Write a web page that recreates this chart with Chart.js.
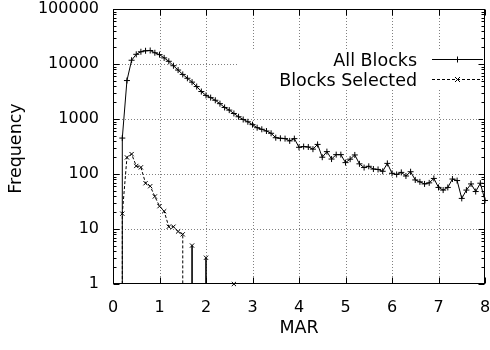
<!DOCTYPE html>
<html>
<head>
<meta charset="utf-8">
<script src="https://cdn.jsdelivr.net/npm/chart.js@4/dist/chart.umd.min.js"></script>
<style>
  html, body { margin: 0; padding: 0; background: #fff; }
  #chart { display: block; }
</style>
</head>
<body>
<canvas id="chart" width="490" height="350"></canvas>
<script>
// MAR bins (x), 0.1 wide
const mar = [
  0.1, 0.2, 0.3, 0.4, 0.5, 0.6, 0.7, 0.8, 0.9, 1.0,
  1.1, 1.2, 1.3, 1.4, 1.5, 1.6, 1.7, 1.8, 1.9, 2.0,
  2.1, 2.2, 2.3, 2.4, 2.5, 2.6, 2.7, 2.8, 2.9, 3.0,
  3.1, 3.2, 3.3, 3.4, 3.5, 3.6, 3.7, 3.8, 3.9, 4.0,
  4.1, 4.2, 4.3, 4.4, 4.5, 4.6, 4.7, 4.8, 4.9, 5.0,
  5.1, 5.2, 5.3, 5.4, 5.5, 5.6, 5.7, 5.8, 5.9, 6.0,
  6.1, 6.2, 6.3, 6.4, 6.5, 6.6, 6.7, 6.8, 6.9, 7.0,
  7.1, 7.2, 7.3, 7.4, 7.5, 7.6, 7.7, 7.8, 7.9, 8.0
];

const allBlocks = [
  0, 450, 5000, 11700, 15000, 16700, 17400, 17600, 16000, 14800,
  12900, 11200, 9300, 7760, 6460, 5500, 4680, 3890, 3160, 2690,
  2450, 2190, 1900, 1620, 1450, 1260, 1100, 980, 890, 790,
  695, 650, 605, 550, 457, 446, 440, 400, 440, 306,
  315, 310, 283, 345, 202, 255, 187, 225, 225, 161,
  186, 222, 153, 131, 138, 123, 121, 112, 156, 103,
  98, 107, 92, 110, 78, 72, 66, 69, 83, 57,
  51, 57, 81, 76, 36, 51, 66, 48, 68, 33
];

// same bins, only the first 27 (0.1 .. 2.7)
const blocksSelected = [
  0, 19, 200, 230, 140, 132, 68, 60, 39, 26,
  21, 11, 11, 9, 8, 0, 5, 0, 0, 3,
  0, 0, 0, 0, 0, 1, 0
];

const seriesNames = ["All Blocks", "Blocks Selected"];
const xTicks = [0, 1, 2, 3, 4, 5, 6, 7, 8];
const yTicks = [1, 10, 100, 1000, 10000, 100000];
const xTitle = "MAR";
const yTitle = "Frequency";

const FONT = "'DejaVu Sans', sans-serif";
const FLOOR = yTicks[0];

// gnuplot draws a zero count on a log axis as a drop straight down to the floor;
// a count with zeros on both sides gets the drop twice (up and down)
function toPoints(values) {
  const pts = [];
  values.forEach((v, i) => {
    if (v <= 0) return;
    const x = mar[i];
    const before = i > 0 && values[i - 1] === 0;
    const after = i < values.length - 1 && values[i + 1] === 0;
    const spike = before && after;
    if (before) pts.push({ x, y: FLOOR, edge: true, spike });
    pts.push({ x, y: v, spike });
    if (after) {
      pts.push({ x, y: FLOOR, edge: true, spike });
      pts.push({ x, y: null });
    }
  });
  return pts;
}

const markRadius = ctx => (ctx.raw && ctx.raw.edge ? 0 : 3);

function spikeSegment(data) {
  const isSpike = ctx => data[ctx.p0DataIndex].spike && data[ctx.p1DataIndex].spike;
  return {
    borderDash: ctx => (isSpike(ctx) ? [] : undefined),
    borderWidth: ctx => (isSpike(ctx) ? 1.6 : undefined)
  };
}

const gnuplotFrame = {
  id: "gnuplotFrame",
  beforeDatasetsDraw(chart) {
    const { ctx, chartArea: a, scales: { x, y } } = chart;
    ctx.save();
    ctx.strokeStyle = "#808080";
    ctx.lineWidth = 1;
    ctx.setLineDash([1, 2]);
    ctx.beginPath();
    xTicks.slice(1, -1).forEach(v => {
      const px = Math.round(x.getPixelForValue(v)) + 0.5;
      ctx.moveTo(px, a.top);
      ctx.lineTo(px, a.bottom);
    });
    yTicks.slice(1, -1).forEach(v => {
      const py = Math.round(y.getPixelForValue(v)) + 0.5;
      ctx.moveTo(a.left, py);
      ctx.lineTo(a.right, py);
    });
    ctx.stroke();
    ctx.setLineDash([]);
    // opaque key box
    ctx.fillStyle = "#fff";
    ctx.fillRect(a.left + 125, a.top + 40, a.right - a.left - 125, 40);
    ctx.restore();
  },
  afterDatasetsDraw(chart) {
    const { ctx, chartArea: a, scales: { x, y } } = chart;
    const L = Math.round(a.left) + 0.5, R = Math.round(a.right) - 0.5;
    const T = Math.round(a.top) + 0.5, B = Math.round(a.bottom) - 0.5;
    ctx.save();
    ctx.strokeStyle = "#000";
    ctx.lineWidth = 1;
    ctx.strokeRect(L, T, R - L, B - T);

    ctx.beginPath();
    xTicks.forEach(v => {
      const px = Math.round(x.getPixelForValue(v)) + 0.5;
      ctx.moveTo(px, B); ctx.lineTo(px, B - 6);
      ctx.moveTo(px, T); ctx.lineTo(px, T + 6);
    });
    yTicks.forEach((d, i) => {
      const py = Math.round(y.getPixelForValue(d)) + 0.5;
      ctx.moveTo(L, py); ctx.lineTo(L + 6, py);
      ctx.moveTo(R, py); ctx.lineTo(R - 6, py);
      if (i === yTicks.length - 1) return;
      for (let m = 2; m <= 9; m++) {
        const pm = Math.round(y.getPixelForValue(d * m)) + 0.5;
        ctx.moveTo(L, pm); ctx.lineTo(L + 3, pm);
        ctx.moveTo(R, pm); ctx.lineTo(R - 3, pm);
      }
    });
    ctx.stroke();

    // key
    ctx.font = "17.5px " + FONT;
    ctx.fillStyle = "#000";
    ctx.textAlign = "right";
    ctx.textBaseline = "alphabetic";
    const keyStyles = [{ dash: [], mark: "+" }, { dash: [3, 2], mark: "x" }];
    seriesNames.forEach((name, i) => {
      const ly = a.top + 50.5 + i * 20;
      ctx.fillText(name, a.left + 304, ly + 6.5);
      ctx.setLineDash(keyStyles[i].dash);
      ctx.beginPath();
      ctx.moveTo(a.left + 319, ly);
      ctx.lineTo(a.left + 370, ly);
      ctx.stroke();
      ctx.setLineDash([]);
      const cx = a.left + 344.5;
      ctx.beginPath();
      if (keyStyles[i].mark === "+") {
        ctx.moveTo(cx - 3, ly); ctx.lineTo(cx + 3, ly);
        ctx.moveTo(cx, ly - 3); ctx.lineTo(cx, ly + 3);
      } else {
        ctx.moveTo(cx - 2.5, ly - 2.5); ctx.lineTo(cx + 2.5, ly + 2.5);
        ctx.moveTo(cx - 2.5, ly + 2.5); ctx.lineTo(cx + 2.5, ly - 2.5);
      }
      ctx.stroke();
    });

    // axis titles
    ctx.textAlign = "center";
    ctx.textBaseline = "middle";
    ctx.font = "17.5px " + FONT;
    ctx.fillText(xTitle, (a.left + a.right) / 2, 328);
    ctx.translate(16, (a.top + a.bottom) / 2 + 2);
    ctx.rotate(-Math.PI / 2);
    ctx.fillText(yTitle, 0, 0);
    ctx.restore();
  }
};

const allPts = toPoints(allBlocks);
const selPts = toPoints(blocksSelected);

new Chart(document.getElementById("chart"), {
  type: "line",
  data: {
    datasets: [
      {
        label: seriesNames[0],
        data: allPts,
        borderColor: "#000",
        backgroundColor: "#000",
        borderWidth: 1,
        pointStyle: "cross",
        pointRadius: markRadius,
        pointBorderWidth: 1,
        tension: 0,
        spanGaps: false,
        clip: false
      },
      {
        label: seriesNames[1],
        data: selPts,
        borderColor: "#000",
        backgroundColor: "#000",
        borderWidth: 1,
        borderDash: [3, 2],
        segment: spikeSegment(selPts),
        pointStyle: "crossRot",
        pointRadius: markRadius,
        pointBorderWidth: 1,
        tension: 0,
        spanGaps: false,
        clip: false
      }
    ]
  },
  options: {
    responsive: false,
    animation: false,
    devicePixelRatio: 1,
    layout: { padding: { top: 9, right: 3, left: 0, bottom: 0 } },
    plugins: { legend: { display: false }, tooltip: { enabled: false } },
    scales: {
      x: {
        type: "linear",
        min: xTicks[0],
        max: xTicks[xTicks.length - 1],
        afterBuildTicks: s => { s.ticks = xTicks.map(v => ({ value: v })); },
        afterFit: s => { s.height = 66; s.paddingLeft = 0; s.paddingRight = 0; },
        grid: { display: false, drawTicks: false },
        border: { display: false },
        ticks: {
          padding: 14,
          maxRotation: 0,
          color: "#000",
          font: { family: FONT, size: 16 },
          callback: v => String(v)
        }
      },
      y: {
        type: "logarithmic",
        min: yTicks[0],
        max: yTicks[yTicks.length - 1],
        afterBuildTicks: s => { s.ticks = yTicks.map(v => ({ value: v })); },
        afterFit: s => { s.width = 113; s.paddingTop = 0; s.paddingBottom = 0; },
        grid: { display: false, drawTicks: false },
        border: { display: false },
        ticks: {
          padding: 14,
          color: "#000",
          font: { family: FONT, size: 16 },
          callback: v => String(v)
        }
      }
    }
  },
  plugins: [gnuplotFrame]
});
</script>
</body>
</html>
